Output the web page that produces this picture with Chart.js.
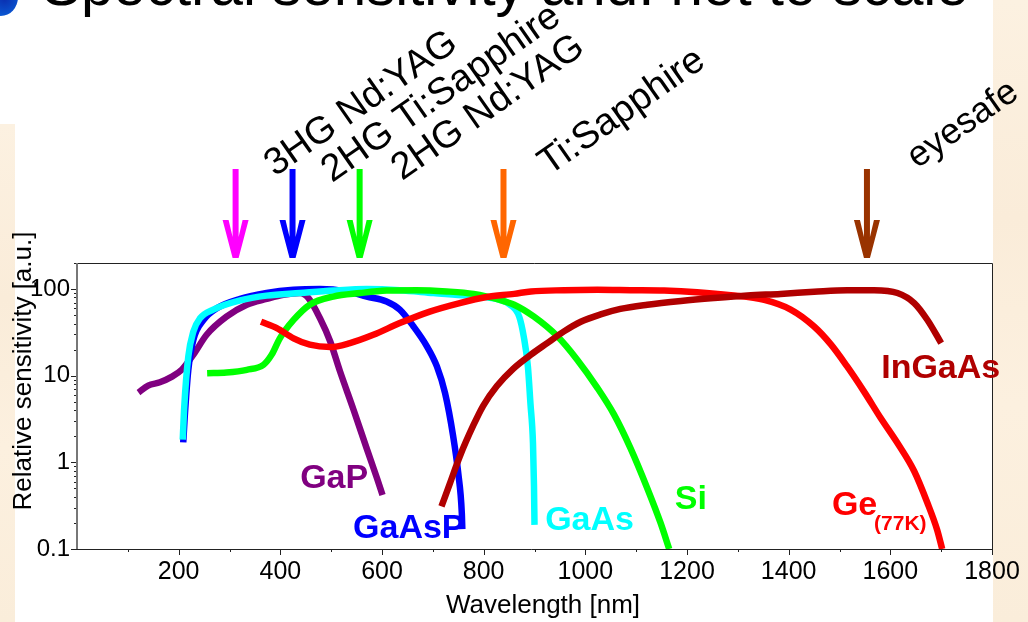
<!DOCTYPE html>
<html>
<head>
<meta charset="utf-8">
<title>Spectral sensitivity</title>
<script src="https://cdn.jsdelivr.net/npm/chart.js@4"></script>
<style>
  html, body { margin: 0; padding: 0; background: #fff; overflow: hidden; }
  #page { position: relative; width: 1028px; height: 622px; overflow: hidden; background: #fff; }
  .strip { position: absolute; background: linear-gradient(180deg, #fcf1e1 0%, #faecd9 35%, #fcf0df 65%, #faedda 100%); }
  #stripLeft { left: 0; top: 124px; width: 15px; height: 498px; }
  #stripRight { left: 993px; top: 0; width: 35px; height: 622px; }
  #logo { position: absolute; left: -16px; top: -22px; width: 34px; height: 38px; border-radius: 50%;
          background: radial-gradient(circle at 60% 55%, #0a2fb0 0%, #0a55d0 55%, #7fb0e8 80%, rgba(255,255,255,0) 100%); }
  #slideTitle { position: absolute; left: 42px; top: -48px; white-space: nowrap; color: #000;
                font: 58.3px "Liberation Sans", Arial, sans-serif; line-height: 66px; }
  #chartBox { position: absolute; left: 0; top: 0; width: 1028px; height: 622px; }
</style>
</head>
<body>
<div id="page">
  <div class="strip" id="stripLeft"></div>
  <div class="strip" id="stripRight"></div>
  <div id="logo"></div>
  <div id="slideTitle">Spectral sensitivity and: not to scale</div>
  <div id="chartBox"><canvas id="sensitivityChart" width="1028" height="622"></canvas></div>
</div>
<script>
/* Data */
const gapWavelength = [121, 140, 163, 186, 206, 229, 255, 294, 334, 373, 406, 439, 455, 478, 498, 517, 544, 570, 590, 601];
const gapSensitivity = [6.4, 7.7, 8.4, 9.7, 11.7, 17.5, 29.7, 48, 66, 77, 86, 90, 79, 46, 25, 11.4, 4.05, 1.44, 0.66, 0.42];

const gaaspWavelength = [209, 212, 219, 229, 249, 275, 321, 373, 426, 478, 530, 570, 609, 635, 662, 688, 708, 724, 740, 750, 757, 758];
const gaaspSensitivity = [1.7, 3.4, 11.7, 26, 44, 60, 77, 90, 98, 100, 94, 82, 72, 58, 37, 22, 12.8, 6.3, 2, 0.75, 0.26, 0.17];

const gaasWavelength = [208, 211, 219, 229, 242, 268, 321, 373, 439, 504, 570, 635, 701, 767, 832, 852, 870, 879, 887, 892, 897, 899, 900];
const gaasSensitivity = [1.83, 4.4, 16.7, 32.5, 46, 58, 74, 84, 90, 96, 100, 97, 90, 84, 75, 66, 48, 28, 12.8, 4.8, 1.67, 0.53, 0.19];

const siWavelength = [256, 294, 334, 367, 383, 399, 426, 458, 504, 557, 609, 668, 727, 780, 832, 860, 899, 945, 984, 1024, 1056, 1089, 1122, 1148, 1165];
const siSensitivity = [10.7, 10.9, 11.7, 13.4, 17.5, 27, 44, 66, 82, 90, 96, 97, 94, 88, 75, 66, 48, 28.5, 15.3, 7.2, 3.6, 1.45, 0.5, 0.2, 0.1];

const ingaasWavelength = [717, 734, 753, 780, 799, 826, 858, 893, 925, 958, 991, 1030, 1069, 1122, 1188, 1253, 1319, 1384, 1450, 1515, 1568, 1614, 1647, 1673, 1700];
const ingaasSensitivity = [0.31, 0.58, 1.17, 2.7, 4.5, 7.6, 12, 17.5, 23.8, 32.5, 42, 51, 59, 66, 73, 79, 84.5, 88, 93, 97, 97, 90, 69, 44, 23.8];

const geWavelength = [362, 393, 426, 458, 498, 537, 583, 635, 694, 753, 806, 860, 893, 958, 1024, 1089, 1155, 1220, 1286, 1352, 1404, 1450, 1483, 1515, 1548, 1581, 1614, 1647, 1673, 1692, 1702];
const geSensitivity = [42, 35.5, 27, 22.8, 21.4, 23.8, 29.7, 40.5, 55, 69, 81, 88, 94, 97, 98, 97, 96, 92, 85, 75, 58, 37, 23, 12.8, 6.6, 3.25, 1.67, 0.79, 0.34, 0.167, 0.1];

/* Axis ticks */
const xTickValues = [100, 200, 300, 400, 500, 600, 700, 800, 900, 1000, 1100, 1200, 1300, 1400, 1500, 1600, 1700, 1800];
const xLabelEvery = 200;
const yTickValues = [0.1, 0.2, 0.3, 0.4, 0.5, 0.6, 0.7, 0.8, 0.9, 1, 2, 3, 4, 5, 6, 7, 8, 9, 10, 20, 30, 40, 50, 60, 70, 80, 90, 100, 200];
const yTickLabels = { 0.1: '0.1', 1: '1', 10: '10', 100: '100' };

/* Laser lines, the arrows are not to scale */
const laserNames = ['3HG Nd:YAG', '2HG Ti:Sapphire', '2HG Nd:YAG', 'Ti:Sapphire', 'eyesafe'];
const laserPositions = [312, 424, 556, 839, 1554];
const laserColors = ['#ff00ff', '#0000ff', '#00ff00', '#ff6600', '#993300'];
const laserLabelAnchorX = [275, 332, 402, 549, 917];
const laserLabelAnchorY = [177, 183, 181, 176, 169];
const laserLabelFonts = [38, 38, 38, 38, 36];

/* Curve labels */
const curveNames = ['GaP', 'GaAsP', 'GaAs', 'Si', 'InGaAs', 'Ge', '(77K)'];
const curveNameX = [439, 543, 921, 1176, 1582, 1485, 1568];
const curveNameY = [0.5, 0.135, 0.167, 0.29, 9.5, 0.25, 0.165];
const curveNameColors = ['#800080', '#0000ff', '#00ffff', '#00ff00', '#b00000', '#ff0000', '#ff0000'];
const curveNameFonts = [34, 34, 34, 34, 34, 34, 21];

const fontFamily = '"Liberation Sans", Arial, sans-serif';

function toPoints(xs, ys) {
  return xs.map((x, i) => ({ x: x, y: ys[i] }));
}

function curve(label, xs, ys, color) {
  return {
    label: label,
    data: toPoints(xs, ys),
    borderColor: color,
    backgroundColor: color,
    borderWidth: 6.5,
    borderCapStyle: 'butt',
    pointRadius: 0,
    cubicInterpolationMode: 'monotone',
    fill: false,
    clip: 0
  };
}

// frame and ticks, chart.js has only one tick length per axis
const framePlugin = {
  id: 'frame',
  afterDraw(chart) {
    const ctx = chart.ctx;
    const a = chart.chartArea;
    const sx = chart.scales.x;
    const sy = chart.scales.y;
    ctx.save();
    ctx.strokeStyle = '#222';
    ctx.lineWidth = 1;
    ctx.beginPath();
    ctx.moveTo(a.left, a.top + 0.5);
    ctx.lineTo(a.right + 0.5, a.top + 0.5);
    ctx.lineTo(a.right + 0.5, a.bottom + 0.5);
    ctx.lineTo(a.left - 6, a.bottom + 0.5);
    sx.ticks.forEach(t => {
      const px = Math.round(sx.getPixelForValue(t.value)) + 0.5;
      const len = t.value % xLabelEvery === 0 ? 6 : 3;
      ctx.moveTo(px, a.bottom);
      ctx.lineTo(px, a.bottom + len);
    });
    sy.ticks.forEach(t => {
      const py = Math.round(sy.getPixelForValue(t.value)) + 0.5;
      const len = yTickLabels[t.value] ? 6 : 3;
      ctx.moveTo(a.left, py);
      ctx.lineTo(a.left - len, py);
    });
    ctx.stroke();
    ctx.strokeStyle = '#777';
    ctx.lineWidth = 2;
    ctx.beginPath();
    ctx.moveTo(a.left, a.top);
    ctx.lineTo(a.left, a.bottom);
    ctx.stroke();
    ctx.restore();
  }
};

// arrows, rotated laser names, curve names and axis titles
const textPlugin = {
  id: 'texts',
  afterDraw(chart) {
    const ctx = chart.ctx;
    const sx = chart.scales.x;
    const sy = chart.scales.y;
    ctx.save();

    laserPositions.forEach((w, i) => {
      const px = sx.getPixelForValue(w);
      ctx.fillStyle = laserColors[i];
      ctx.beginPath();
      ctx.moveTo(px - 3, 169);
      ctx.lineTo(px + 3, 169);
      ctx.lineTo(px + 3, 237);
      ctx.lineTo(px + 7, 220);
      ctx.lineTo(px + 13, 220);
      ctx.lineTo(px + 3, 258);
      ctx.lineTo(px - 3, 258);
      ctx.lineTo(px - 13, 220);
      ctx.lineTo(px - 7, 220);
      ctx.lineTo(px - 3, 237);
      ctx.closePath();
      ctx.fill();
    });

    ctx.fillStyle = '#000';
    ctx.textAlign = 'left';
    ctx.textBaseline = 'alphabetic';
    laserNames.forEach((name, i) => {
      ctx.save();
      ctx.font = laserLabelFonts[i] + 'px ' + fontFamily;
      ctx.translate(laserLabelAnchorX[i], laserLabelAnchorY[i]);
      ctx.rotate(-35 * Math.PI / 180);
      ctx.fillText(name, 0, 0);
      ctx.restore();
    });

    curveNames.forEach((name, i) => {
      ctx.fillStyle = curveNameColors[i];
      ctx.font = 'bold ' + curveNameFonts[i] + 'px ' + fontFamily;
      ctx.fillText(name, sx.getPixelForValue(curveNameX[i]), sy.getPixelForValue(curveNameY[i]));
    });

    ctx.fillStyle = '#000';
    ctx.font = '26px ' + fontFamily;
    ctx.textAlign = 'center';
    ctx.textBaseline = 'middle';
    ctx.fillText('Wavelength [nm]', 543, 606);
    ctx.translate(24, 371);
    ctx.rotate(-Math.PI / 2);
    ctx.fillText('Relative sensitivity [a.u.]', 0, 0);
    ctx.restore();
  }
};

const ctxSensitivity = document.getElementById('sensitivityChart').getContext('2d');

// first dataset ends up on top
const sensitivityChart = new Chart(ctxSensitivity, {
  type: 'line',
  data: {
    datasets: [
      curve('InGaAs', ingaasWavelength, ingaasSensitivity, '#b00000'),
      curve('Ge (77K)', geWavelength, geSensitivity, '#ff0000'),
      curve('Si', siWavelength, siSensitivity, '#00ff00'),
      curve('GaAs', gaasWavelength, gaasSensitivity, '#00ffff'),
      curve('GaAsP', gaaspWavelength, gaaspSensitivity, '#0000ff'),
      curve('GaP', gapWavelength, gapSensitivity, '#800080')
    ]
  },
  options: {
    responsive: false,
    animation: false,
    layout: { padding: { left: 0, top: 263, right: 36, bottom: 0 } },
    plugins: { legend: { display: false }, title: { display: false }, tooltip: { enabled: false } },
    scales: {
      x: {
        type: 'linear',
        min: 0,
        max: 1800,
        afterFit: scale => { scale.height = 73; },
        afterBuildTicks: scale => { scale.ticks = xTickValues.map(v => ({ value: v })); },
        grid: { display: false, drawTicks: false },
        border: { display: false },
        ticks: {
          color: '#000',
          autoSkip: false,
          maxRotation: 0,
          padding: 8,
          font: { family: fontFamily, size: 25 },
          callback: value => (value % xLabelEvery === 0 ? String(value) : '')
        }
      },
      y: {
        type: 'logarithmic',
        min: 0.1,
        max: 200,
        afterFit: scale => { scale.width = 77; },
        afterBuildTicks: scale => { scale.ticks = yTickValues.map(v => ({ value: v })); },
        grid: { display: false, drawTicks: false },
        border: { display: false },
        ticks: {
          color: '#000',
          autoSkip: false,
          padding: 7,
          font: { family: fontFamily, size: 24 },
          callback: value => yTickLabels[value] || ''
        }
      }
    }
  },
  plugins: [framePlugin, textPlugin]
});
</script>
</body>
</html>
